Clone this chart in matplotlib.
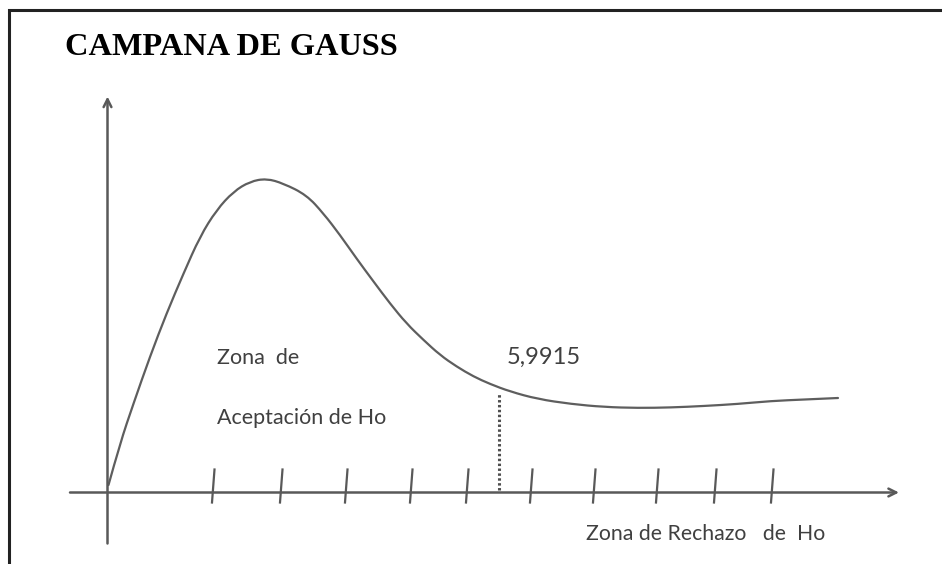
import numpy as np
import matplotlib
matplotlib.use("Agg")
import matplotlib.pyplot as plt
from matplotlib.path import Path
from matplotlib.patches import PathPatch

# curve (origin at the axes crossing)
curve_x = [1, 12.5, 26, 42.5, 59, 76, 92.5, 109, 126, 142.5, 159, 176,
           199, 216, 232.5, 249, 266, 282.5, 299, 316, 332.5, 349, 366, 382.5,
           402.5, 430, 463.5, 496.5, 530.5, 563.5, 596.5, 630, 663.5, 697, 730.5]
curve_y = [7.5, 49, 89, 136, 179, 219, 256, 282.5, 301, 311, 314, 309,
           297.5, 279, 257.5, 234, 211, 189, 169, 152.5, 137.5, 126, 116, 108.5,
           101, 93.5, 88.5, 85.5, 84.5, 85, 86.5, 88.5, 91.5, 93, 94.5]

tick_x = [105.5, 173.5, 238.5, 303.5, 359.5, 423.5, 486.5, 549.5, 607.5, 664.5]
critical_x = 391.5
critical_label = "5,9915"

title = "CAMPANA DE GAUSS"
accept_lines = ["Zona  de", "Aceptación de Ho"]
reject_label = "Zona de Rechazo   de  Ho"

line_col = "#595959"
text_col = "#404040"

fig = plt.figure(figsize=(9.42, 5.64), dpi=100)
ax = fig.add_axes([0, 0, 1, 1])
ax.set_xlim(-107.5, 834.5)
ax.set_ylim(-71.5, 492.5)
ax.axis("off")

# frame (left and top only)
ax.plot([-99, -99, 834.5], [-71.5, 483, 483], color="#222222", lw=2.2,
        solid_capstyle="butt", solid_joinstyle="miter")

# axes with arrow heads
arrow = dict(arrowstyle="->", lw=1.8, color=line_col, mutation_scale=14,
             shrinkA=0, shrinkB=0)
ax.annotate("", xy=(791.5, 0), xytext=(-37.5, 0), arrowprops=arrow)
ax.annotate("", xy=(0, 396), xytext=(0, -51), arrowprops=arrow)

# slanted tick marks
for t in tick_x:
    ax.plot([t - 1, t + 1.5], [-10, 23], color=line_col, lw=1.6)

# the curve, drawn as a smooth quadratic path through the read points
pts = np.column_stack([curve_x, curve_y])
verts = [pts[0]]
codes = [Path.MOVETO]
for i in range(1, len(pts) - 1):
    mid = (pts[i] + pts[i + 1]) / 2
    verts += [pts[i], mid]
    codes += [Path.CURVE3, Path.CURVE3]
verts.append(pts[-1])
codes.append(Path.LINETO)
ax.add_patch(PathPatch(Path(verts, codes), facecolor="none",
                       edgecolor="#5e5e5e", lw=1.6, capstyle="round"))

# critical value
ax.plot([critical_x, critical_x], [3, 100], color="#505050", lw=2.2,
        linestyle=(0, (0.8, 0.8)))
ax.text(399.5, 128.5, critical_label, fontsize=17, family="Lato",
        color=text_col, ha="left", va="baseline")

ax.text(109.5, 128.5, accept_lines[0], fontsize=15.5, family="Lato",
        color=text_col, ha="left", va="baseline")
ax.text(109.5, 68, accept_lines[1], fontsize=15.5, family="Lato",
        color=text_col, ha="left", va="baseline")
ax.text(478.5, -47.5, reject_label, fontsize=15.3, family="Lato",
        color=text_col, ha="left", va="baseline")

ax.text(-42.5, 437.5, title, fontsize=23.3, family="Liberation Serif",
        fontweight="bold", color="black", ha="left", va="baseline")

fig.savefig("out.png", dpi=100, facecolor="white")
